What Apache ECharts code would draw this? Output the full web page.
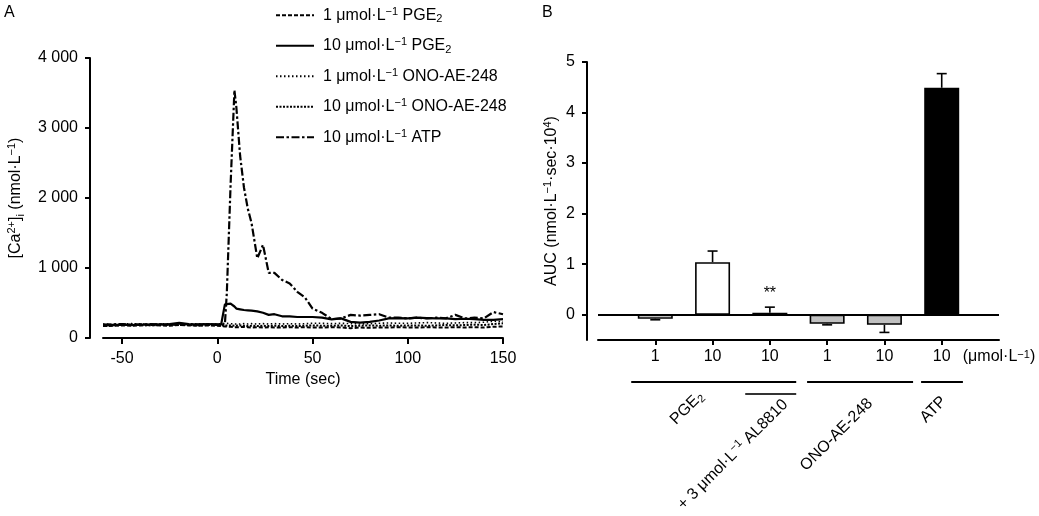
<!DOCTYPE html>
<html>
<head>
<meta charset="utf-8">
<script src="https://cdn.jsdelivr.net/npm/echarts@6/dist/echarts.min.js"></script>
<style>html,body{margin:0;padding:0;background:#fff}#c{width:1039px;height:516px}</style>
</head>
<body>
<div id="c"></div>
<script>
// ---------- Panel A data ----------
const timeSec = [-60,-55,-50,-45,-40,-35,-30,-25,-20,-15,-10,-5,0,2,4,5,7,9,10,12,14,16,18,21,24,27,30,34,38,42,46,50,55,60,65,70,75,80,85,90,95,100,105,110,115,120,125,130,135,140,145,150];
const pge2_1 = [170,175,180,175,180,185,180,175,185,180,175,180,175,170,165,160,160,155,160,155,160,155,150,155,150,155,150,150,155,150,155,150,150,155,150,140,150,145,150,150,155,150,150,155,150,150,155,150,155,150,160,165];
const pge2_10 = [180,185,190,185,190,190,195,200,215,200,195,200,195,190,480,500,490,450,420,410,400,395,390,380,360,330,340,310,310,300,300,300,290,265,280,230,220,230,250,280,285,280,290,285,280,280,270,275,270,260,260,270];
const ono_1 = [200,195,200,205,200,195,200,205,200,200,205,200,200,205,210,210,205,200,205,200,205,200,205,200,205,200,205,200,205,200,205,210,210,205,210,205,200,205,210,215,210,210,215,220,215,210,215,220,220,225,240,235];
const ono_10 = [185,180,185,190,185,180,185,190,185,185,180,185,185,180,180,175,180,175,175,180,175,170,175,170,175,170,175,170,175,170,175,180,175,175,180,170,175,180,175,180,175,180,180,175,180,185,180,185,190,185,200,210];
const atp_10 = [190,195,200,190,195,200,195,190,205,195,190,195,190,190,200,640,2200,3540,3300,2600,2150,1850,1640,1140,1330,930,930,830,780,660,580,420,360,270,280,330,320,330,340,290,290,280,290,280,290,280,330,280,290,280,370,340];
const seriesNamesA = ['1 PGE2','10 PGE2','1 ONO-AE-248','10 ONO-AE-248','10 ATP'];
const legendLabelsA = ['1 μmol·L{sup|−1} PGE{sub|2}','10 μmol·L{sup|−1} PGE{sub|2}','1 μmol·L{sup|−1} ONO-AE-248','10 μmol·L{sup|−1} ONO-AE-248','10 μmol·L{sup|−1} ATP'];
const xTicksA = [-50,0,50,100,150];
const yTicksA = [0,1000,2000,3000,4000];

// ---------- Panel B data ----------
const doseLabels = ['1','10','10','1','10','10','(μmol·L{sup|−1})'];
const aucValues = [-0.08, 1.04, 0.04, -0.18, -0.2, 4.49];
const aucSem = [0.02, 0.22, 0.11, 0.02, 0.15, 0.28];
const sigMarks = ['','','**','','',''];
const yTicksB = [0,1,2,3,4,5];
const groupNames = ['PGE{sub|2}','+ 3 μmol·L{sup|−1} AL8810','ONO-AE-248','ATP'];

const FONT = 'Liberation Sans, Arial, sans-serif';
const rich = {
  sup:{fontSize:11, fontFamily:FONT, color:'#000', verticalAlign:'top', lineHeight:11},
  sub:{fontSize:11, fontFamily:FONT, color:'#000', verticalAlign:'bottom', lineHeight:11}
};
const barColors = ['#fff','#fff','#fff','#c0c0c0','#c0c0c0','#000'];
const lineStylesA = [
  {type:[4,2], width:2},
  {type:'solid', width:2.2},
  {type:[1.5,2.5], width:1.6},
  {type:[2,1.5], width:2},
  {type:[8,2.5,2.5,2.5], width:2.2}
];
const valuesA = [pge2_1, pge2_10, ono_1, ono_10, atp_10];

const chart = echarts.init(document.getElementById('c'), null, {renderer:'canvas'});

const lineSeries = valuesA.map((vals, k) => ({
  name: seriesNamesA[k], type:'line', xAxisIndex:0, yAxisIndex:0, symbol:'none',
  color:'#000', lineStyle:Object.assign({color:'#000'}, lineStylesA[k]),
  data: timeSec.map((t,i)=>[t, vals[i]]), z: 5 - k, animation:false
}));

const axisCommon = {
  axisLine:{show:true, onZero:false, lineStyle:{color:'#000', width:2}},
  axisTick:{show:true, length:5, lineStyle:{color:'#000', width:2}},
  axisLabel:{color:'#000', fontSize:16, fontFamily:FONT, rich:rich},
  splitLine:{show:false}
};

const option = {
  animation:false,
  backgroundColor:'#fff',
  textStyle:{fontFamily:FONT, color:'#000'},
  grid:[
    {left:103, top:58, width:400, height:280},
    {left:598, top:62, width:401, height:278}
  ],
  legend:{
    orient:'vertical', left:270, top:1, itemWidth:38, itemHeight:14, itemGap:12,
    data: seriesNamesA,
    itemStyle:{opacity:0},
    textStyle:{fontSize:16, fontFamily:FONT, color:'#000', lineHeight:18.5, padding:[0,0,0,4], rich:rich},
    formatter: n => legendLabelsA[seriesNamesA.indexOf(n)]
  },
  xAxis:[
    Object.assign({}, axisCommon, {
      gridIndex:0, type:'value', min:-60, max:150,
      axisTick:{show:true, length:6, customValues:xTicksA, lineStyle:{color:'#000', width:2}},
      axisLabel:{color:'#000', fontSize:16, fontFamily:FONT, margin:13, customValues:xTicksA, showMinLabel:true, showMaxLabel:true},
      name:'Time (sec)', nameLocation:'middle', nameGap:34,
      nameTextStyle:{fontSize:16, fontFamily:FONT, color:'#000'}
    }),
    Object.assign({}, axisCommon, {
      gridIndex:1, type:'value', min:0, max:7,
      axisTick:{show:true, length:5, customValues:[1,2,3,4,5,6], lineStyle:{color:'#000', width:2}},
      axisLabel:{color:'#000', fontSize:16, fontFamily:FONT, margin:9, rich:rich,
        customValues:[1,2,3,4,5,6,7], showMinLabel:true, showMaxLabel:true,
        formatter: v => doseLabels[Math.round(v)-1]}
    })
  ],
  yAxis:[
    Object.assign({}, axisCommon, {
      gridIndex:0, type:'value', min:0, max:4000, offset:13,
      axisTick:{show:true, length:5, customValues:yTicksA, lineStyle:{color:'#000', width:2}},
      axisLabel:{color:'#000', fontSize:16, fontFamily:FONT, margin:12, customValues:yTicksA,
        formatter: v => v >= 1000 ? String(v/1000) + ' 000' : String(v)},
      name:'[Ca{sup|2+}]{sub|i} (nmol·L{sup|−1})', nameLocation:'middle', nameGap:64,
      nameTextStyle:{fontSize:16, fontFamily:FONT, color:'#000', lineHeight:20, rich:rich}
    }),
    Object.assign({}, axisCommon, {
      gridIndex:1, type:'value', min:-0.5, max:5, offset:11,
      axisTick:{show:true, length:5, customValues:yTicksB, lineStyle:{color:'#000', width:2}},
      axisLabel:{color:'#000', fontSize:16, fontFamily:FONT, margin:12, customValues:yTicksB},
      name:'AUC (nmol·L{sup|−1}·sec·10{sup|4})', nameLocation:'middle', nameGap:25,
      nameTextStyle:{fontSize:16, fontFamily:FONT, color:'#000', lineHeight:20, rich:rich}
    })
  ],
  series: lineSeries.concat([
    {
      type:'bar', xAxisIndex:1, yAxisIndex:1, barWidth:35,
      data: aucValues.map((v,i)=>({value:[i+1, v], itemStyle:{color:barColors[i]}})),
      itemStyle:{borderColor:'#000', borderWidth:1.6},
      markLine:{silent:true, symbol:'none', label:{show:false},
        lineStyle:{color:'#000', width:2, type:'solid'}, data:[{yAxis:0}]},
      z:3
    },
    {
      type:'custom', xAxisIndex:1, yAxisIndex:1, z:4, clip:false,
      encode:{x:0, y:1},
      data: aucValues.map((v,i)=>[i+1, v, aucSem[i]]),
      renderItem: function(params, api){
        const x = api.value(0), v = api.value(1), e = api.value(2);
        const end = v >= 0 ? v + e : v - e;
        const p0 = api.coord([x, v]);
        const p1 = api.coord([x, end]);
        const style = {stroke:'#000', lineWidth:1.6};
        const children = [
          {type:'line', shape:{x1:p0[0], y1:p0[1], x2:p1[0], y2:p1[1]}, style:style},
          {type:'line', shape:{x1:p1[0]-5, y1:p1[1], x2:p1[0]+5, y2:p1[1]}, style:style}
        ];
        const mark = sigMarks[params.dataIndex];
        if (mark) {
          children.push({type:'text', x:p1[0], y:p1[1]-6,
            style:{text:mark, fill:'#000', font:'16px ' + FONT, align:'center', verticalAlign:'bottom'}});
        }
        return {type:'group', children:children};
      }
    }
  ])
};
chart.setOption(option);

// ---------- Annotations (panel letters, group brackets) ----------
function px(xv){ return chart.convertToPixel({xAxisIndex:1}, xv); }
const yAxisBottom = chart.convertToPixel({yAxisIndex:1}, -0.5);
const groupLines = [
  {from:0.58, to:3.46, row:0},
  {from:2.57, to:3.46, row:1},
  {from:3.65, to:5.5, row:0},
  {from:5.64, to:6.37, row:0}
];
const groupLabelAt = [[1.80, 54], [3.27, 62], [4.75, 61], [6.04, 59]];
const graphics = [
  {type:'text', left:4, top:5, style:{text:'A', font:'16px ' + FONT, fill:'#000'}},
  {type:'text', left:542, top:5, style:{text:'B', font:'16px ' + FONT, fill:'#000'}}
];
groupLines.forEach(g => {
  const y = yAxisBottom + 42 + g.row * 12;
  graphics.push({type:'line', shape:{x1:px(g.from), y1:y, x2:px(g.to), y2:y},
    style:{stroke: g.row ? '#333' : '#000', lineWidth:2}});
});
groupNames.forEach((n, i) => {
  graphics.push({type:'text', x:px(groupLabelAt[i][0]), y:yAxisBottom + groupLabelAt[i][1], rotation:Math.PI/4,
    style:{text:n, font:'16px ' + FONT, fill:'#000', align:'right', verticalAlign:'middle', rich:{
      sup:{fontSize:11, fontFamily:FONT, fill:'#000', verticalAlign:'top', lineHeight:11},
      sub:{fontSize:11, fontFamily:FONT, fill:'#000', verticalAlign:'bottom', lineHeight:11}
    }, lineHeight:19}});
});
chart.setOption({graphic: graphics});
</script>
</body>
</html>
